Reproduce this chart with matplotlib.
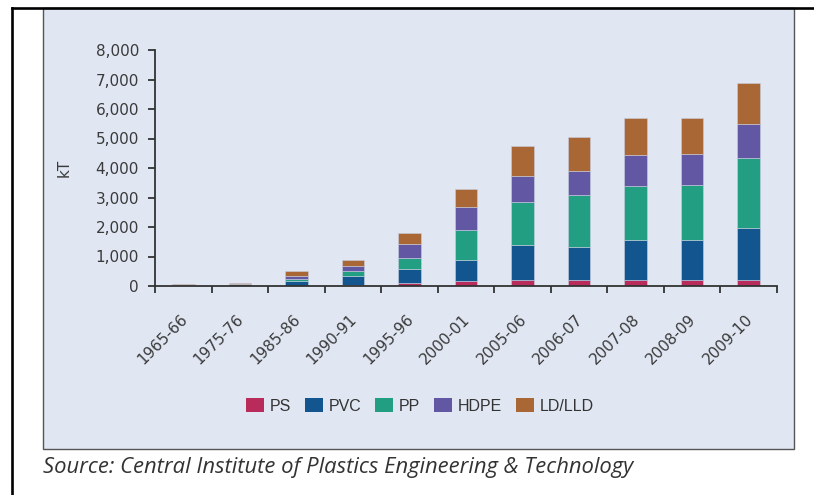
import matplotlib
matplotlib.use("Agg")
import matplotlib.pyplot as plt
import matplotlib.transforms as mtransforms
from matplotlib.patches import Rectangle
from matplotlib.lines import Line2D
import numpy as np

categories = ["1965-66", "1975-76", "1985-86", "1990-91", "1995-96", "2000-01",
              "2005-06", "2006-07", "2007-08", "2008-09", "2009-10"]
ps    = [0,   3,   10,  45,  113, 170,  192,  192,  204,  204,  204]
pvc   = [10,  55,  160, 283, 475, 701,  1199, 1143, 1346, 1368, 1764]
pp    = [5,   5,   56,  181, 362, 1029, 1448, 1753, 1855, 1856, 2365]
hdpe  = [5,   10,  102, 170, 475, 781,  894,  826,  1029, 1040, 1153]
ldlld = [40,  40,  170, 203, 374, 600,  1029, 1120, 1267, 1233, 1380]
series_names = ["PS", "PVC", "PP", "HDPE", "LD/LLD"]
series_colors = ["#B82B5A", "#13558F", "#229E82", "#6257A3", "#A86735"]
ytick_values = [0, 1000, 2000, 3000, 4000, 5000, 6000, 7000, 8000]
ytick_labels = ["0", "1,000", "2,000", "3,000", "4,000", "5,000", "6,000", "7,000", "8,000"]
y_label = "kT"
source_text = "Source: Central Institute of Plastics Engineering & Technology"

W, H = 814, 495
fig = plt.figure(figsize=(W / 100, H / 100), dpi=100)
fig.patch.set_facecolor("white")

def fx(px):
    return px / W

def fy(py):
    return 1 - py / H

# light-blue panel
panel = Rectangle((fx(43), fy(449)), fx(794) - fx(43), fy(8) - fy(449),
                  transform=fig.transFigure, facecolor="#E0E7F3",
                  edgecolor="#555555", linewidth=1.0, zorder=-10)
fig.patches.append(panel)

# outer black frame lines (left and top)
fig.add_artist(Line2D([fx(12), fx(12)], [fy(8), fy(495)], transform=fig.transFigure,
                      color="black", linewidth=1.9, zorder=-5))
fig.add_artist(Line2D([fx(12), fx(814)], [fy(8), fy(8)], transform=fig.transFigure,
                      color="black", linewidth=1.9, zorder=-5))

ax = fig.add_axes([fx(155), fy(286), fx(777) - fx(155), fy(50) - fy(286)])
ax.set_facecolor("none")
ax.set_zorder(5)

x = np.arange(len(categories))
data = [ps, pvc, pp, hdpe, ldlld]
bottom = np.zeros(len(categories))
handles = []
for vals, name, col in zip(data, series_names, series_colors):
    v = np.array(vals, dtype=float)
    b = ax.bar(x, v, width=0.4, bottom=bottom, color=col, label=name,
               edgecolor="#c9cfe0", linewidth=0.4, zorder=2)
    handles.append(b)
    bottom += v

ax.set_xlim(-0.5, len(categories) - 0.5)
ax.set_ylim(0, 8000)

for s in ["top", "right"]:
    ax.spines[s].set_visible(False)
for s in ["left", "bottom"]:
    ax.spines[s].set_color("#333333")
    ax.spines[s].set_linewidth(1.3)

ax.set_yticks(ytick_values)
ax.set_yticklabels(ytick_labels)
ax.tick_params(axis="y", direction="out", length=5, width=1.3, color="#333333",
               pad=6.5, labelsize=11, labelcolor="#3a3a3a")

ax.set_xticks(x)
ax.set_xticklabels(categories, rotation=45, ha="right", va="top")
ax.set_xticks(np.arange(-0.5, len(categories), 1.0), minor=True)
ax.tick_params(axis="x", which="major", length=0, pad=18.5, labelsize=11,
               labelcolor="#3a3a3a")
ax.tick_params(axis="x", which="minor", direction="out", length=5, width=1.3,
               color="#333333")
offset = mtransforms.ScaledTranslation(7 / 100, 0, fig.dpi_scale_trans)
for lbl in ax.get_xticklabels():
    lbl.set_transform(lbl.get_transform() + offset)

for lbl in ax.get_yticklabels() + ax.get_xticklabels():
    lbl.set_family("DejaVu Sans")

ax.set_ylabel(y_label, fontsize=11, color="#3a3a3a")
ax.yaxis.set_label_coords((72 - 155) / (777 - 155), 0.5)

leg = fig.legend(handles=handles, labels=series_names, loc="center",
                 bbox_to_anchor=(fx(420), fy(406)), ncol=5, frameon=False,
                 prop={"family": ["Liberation Sans", "DejaVu Sans"], "size": 11.5},
                 handlelength=1.12, handleheight=0.95, handletextpad=0.38,
                 columnspacing=0.85, borderpad=0)
for t in leg.get_texts():
    t.set_color("#333333")
for p in leg.get_patches():
    p.set_edgecolor("none")

fig.text(fx(43), fy(468), source_text, ha="left", va="center",
         fontsize=15.8, style="italic", color="#333333",
         family=["Open Sans", "DejaVu Sans"])

fig.savefig("out.png", dpi=100, facecolor="white")
